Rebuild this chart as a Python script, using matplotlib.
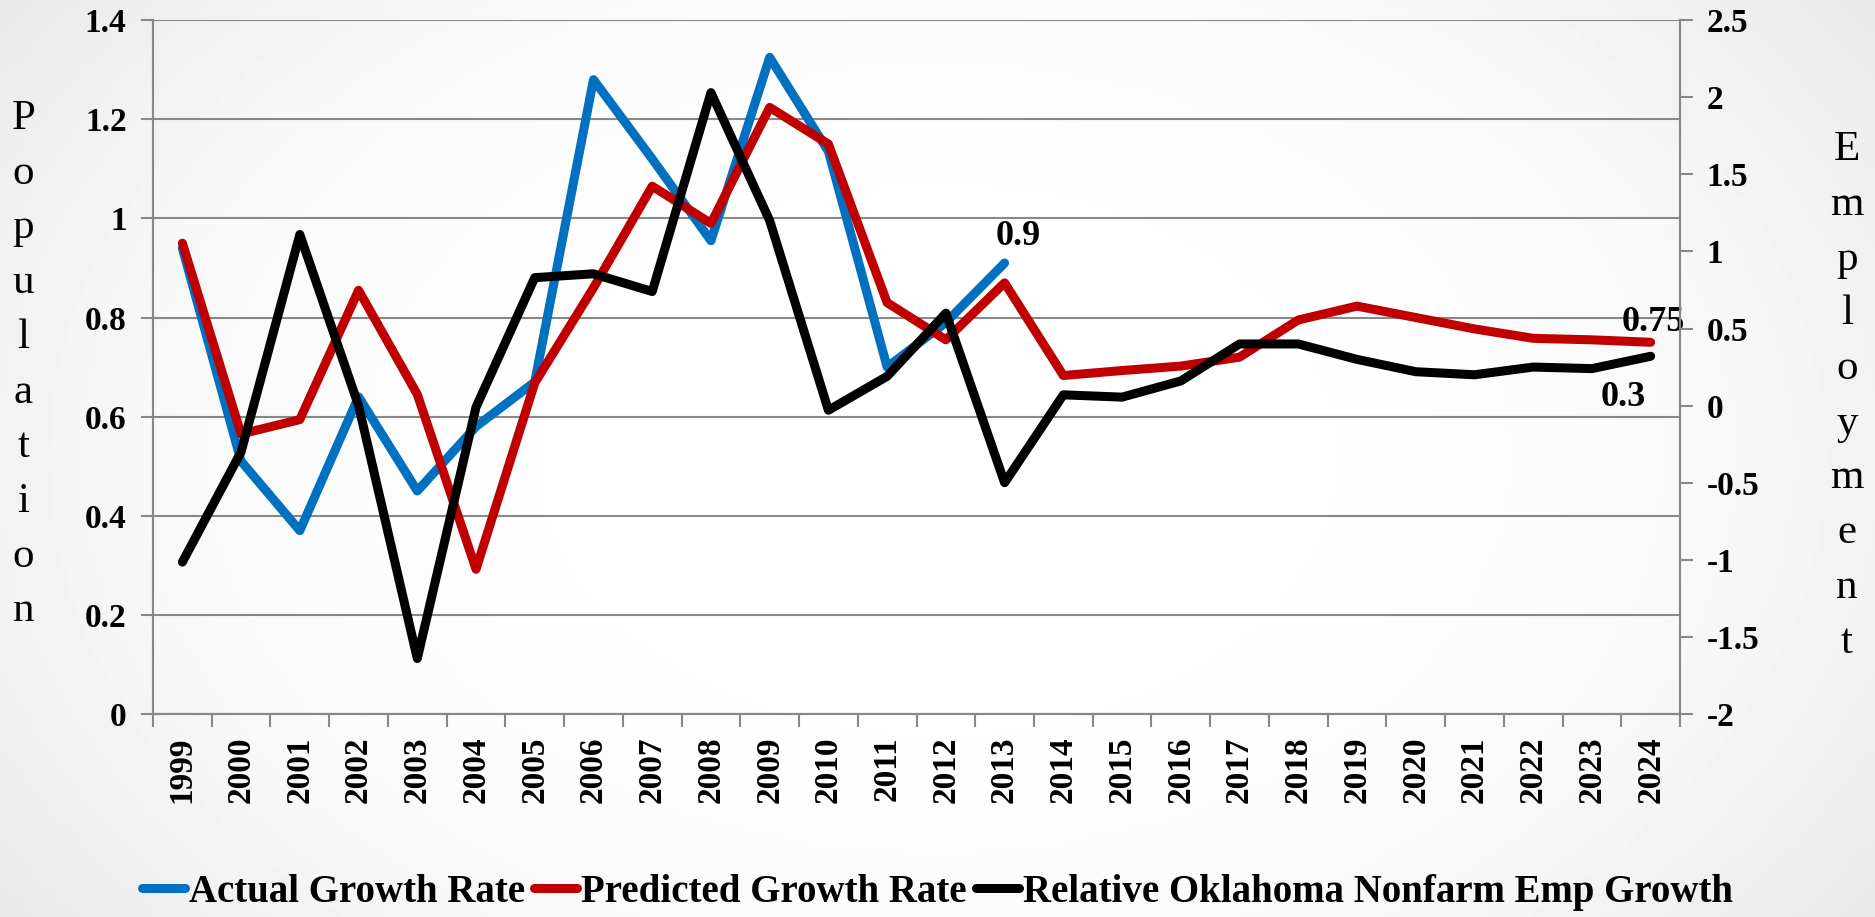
import matplotlib.pyplot as plt
import numpy as np

# data
years = [str(y) for y in range(1999, 2025)]
actual = [0.94, 0.51, 0.37, 0.64, 0.45, 0.58, 0.67, 1.28, 1.12, 0.955,
          1.325, 1.135, 0.70, 0.79, 0.91]
predicted = [0.95, 0.565, 0.594, 0.855, 0.645, 0.292, 0.668, 0.86, 1.065, 0.99,
             1.224, 1.15, 0.83, 0.755, 0.87, 0.683, 0.693, 0.702, 0.72, 0.795,
             0.823, 0.80, 0.777, 0.758, 0.755, 0.75]
employment = [-1.015, -0.30, 1.11, 0.0, -1.64, -0.01, 0.83, 0.855, 0.74, 2.03,
              1.2, -0.03, 0.19, 0.6, -0.50, 0.07, 0.055, 0.16, 0.40, 0.40,
              0.30, 0.22, 0.20, 0.25, 0.24, 0.32]

serif = ['Liberation Serif', 'DejaVu Serif']
plt.rcParams['font.family'] = serif

fig = plt.figure(figsize=(18.75, 9.17), dpi=100)

# soft grey gradient background
bg = fig.add_axes([0, 0, 1, 1], zorder=-10)
gx, gy = np.meshgrid(np.linspace(-1, 1, 400), np.linspace(-1, 1, 200))
r = np.sqrt(gx ** 2 * 0.8 + gy ** 2 * 0.4)
bg.imshow(1 - 0.07 * np.clip(r, 0, 1.3) ** 3, cmap='gray', vmin=0, vmax=1,
          aspect='auto', extent=[0, 1, 0, 1])
bg.axis('off')

ax = fig.add_axes([0.0816, 0.2214, 0.8144, 0.7566])
ax.set_facecolor('none')
ax2 = ax.twinx()

x = np.arange(len(years))
lw = 6.5
style = dict(lw=lw, solid_capstyle='round', solid_joinstyle='round')
l1, = ax.plot(x[:len(actual)], actual, color='#0070c0', label='Actual Growth Rate',
              zorder=3, **style)
l2, = ax.plot(x, predicted, color='#c00000', label='Predicted Growth Rate',
              zorder=4, **style)
l3, = ax2.plot(x, employment, color='black',
               label='Relative Oklahoma Nonfarm Emp Growth', **style)

ax.set_xlim(-0.5, len(years) - 0.5)
ax.set_ylim(0, 1.4)
ax.set_yticks(np.arange(0, 1.41, 0.2))
ax.set_yticklabels(['0', '0.2', '0.4', '0.6', '0.8', '1', '1.2', '1.4'],
                   fontsize=24, fontweight='bold')
ax2.set_ylim(-2, 2.5)
ax2.set_yticks(np.arange(-2, 2.51, 0.5))
ax2.set_yticklabels(['-2', '-1.5', '-1', '-0.5', '0', '0.5', '1', '1.5', '2', '2.5'],
                    fontsize=24, fontweight='bold')

ax.set_xticks(x)
ax.set_xticklabels(years, rotation=90, fontsize=24, fontweight='bold')
ax.set_xticks(np.arange(-0.5, len(years), 1), minor=True)
ax.tick_params(axis='x', which='major', length=0, pad=16)
ax.tick_params(axis='x', which='minor', length=9, color='#888888', width=1.5)
ax.tick_params(axis='y', length=9, color='#888888', width=1.5, pad=10)
ax2.tick_params(axis='y', length=9, color='#888888', width=1.5, pad=10)

ax.grid(axis='y', color='#888888', lw=1.5)
for a in (ax, ax2):
    a.spines['top'].set_visible(False)
    for s in ('left', 'right', 'bottom'):
        a.spines[s].set_color('#888888')
        a.spines[s].set_linewidth(1.5)
# employment line drawn on top
ax2.set_zorder(ax.get_zorder() + 1)
ax.patch.set_visible(False)
ax2.patch.set_visible(False)

# data labels
ax.annotate('0.9', (x[len(actual) - 1], actual[-1]), xytext=(10, 13),
            textcoords='offset points', fontsize=26, fontweight='bold', ha='center')
ax.annotate('0.75', (x[-1], predicted[-1]), xytext=(2, 8),
            textcoords='offset points', fontsize=26, fontweight='bold', ha='center')
ax2.annotate('0.3', (x[-1], employment[-1]), xytext=(-20, -36),
             textcoords='offset points', fontsize=26, fontweight='bold', ha='center')

# stacked vertical axis titles
fig.text(0.0125, 0.602, '\n'.join('Population'), fontsize=31, ha='center', va='center',
         linespacing=1.55)
fig.text(0.985, 0.568, '\n'.join('Employment'), fontsize=31, ha='center',
         va='center', linespacing=1.55)

fig.legend(handles=[l1, l2, l3], loc='center', bbox_to_anchor=(0.5, 0.027), ncol=3,
           frameon=False, handlelength=1.1, handletextpad=0.1, columnspacing=0.25,
           prop={'family': serif, 'weight': 'bold', 'size': 28})

fig.savefig('out.png', dpi=100)
